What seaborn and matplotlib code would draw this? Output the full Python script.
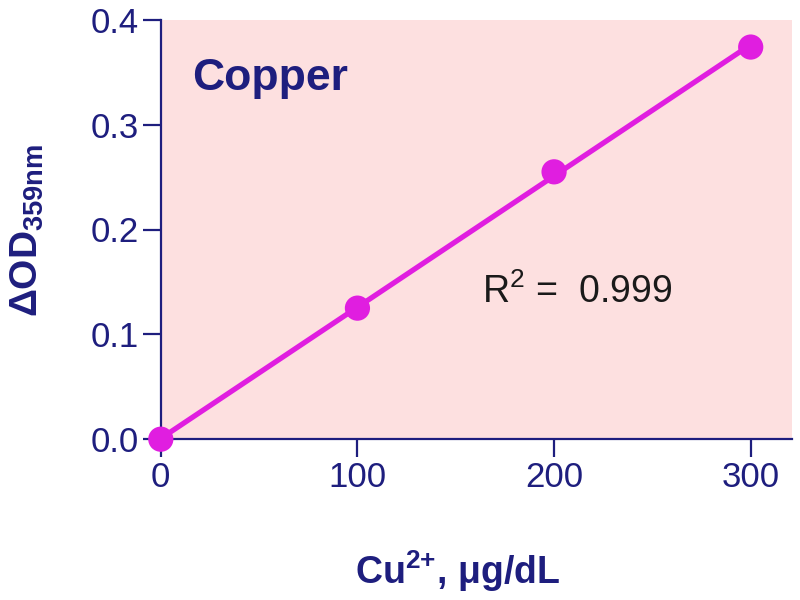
import numpy as np
import pandas as pd
import matplotlib
matplotlib.use("Agg")
import matplotlib.pyplot as plt
import seaborn as sns

# Data
concentration = [0, 100, 200, 300]          # Cu2+, ug/dL
delta_od = [0.0, 0.125, 0.255, 0.374]       # dOD 359nm
x_ticks = [0, 100, 200, 300]
y_ticks = [0.0, 0.1, 0.2, 0.3, 0.4]
r2_text = "R$^2$ =  0.999"
title_text = "Copper"

df = pd.DataFrame({"conc": concentration, "od": delta_od})

sns.set_theme(style="ticks")
plt.rcParams["font.family"] = ["Liberation Sans", "DejaVu Sans"]
plt.rcParams["mathtext.fontset"] = "custom"
plt.rcParams["mathtext.rm"] = "Liberation Sans"
plt.rcParams["mathtext.it"] = "Liberation Sans:italic"
plt.rcParams["mathtext.bf"] = "Liberation Sans:bold"

navy = "#1e1e7e"
magenta = "#e01ee0"
pink = "#fde0e0"

fig = plt.figure(figsize=(8, 6), dpi=100)
ax = fig.add_axes([0.201, 0.268, 0.789, 0.699])
ax.set_facecolor(pink)

sns.regplot(data=df, x="conc", y="od", ax=ax, ci=None, truncate=True,
            scatter_kws=dict(s=330, color=magenta, edgecolor="none", alpha=1,
                             zorder=3, clip_on=False),
            line_kws=dict(color=magenta, lw=3.8, zorder=2))

ax.set_xlim(0, 321)
ax.set_ylim(0, 0.4)
ax.set_xticks(x_ticks)
ax.set_yticks(y_ticks)
ax.set_yticklabels([f"{v:.1f}" for v in y_ticks])
for s in ["top", "right"]:
    ax.spines[s].set_visible(False)
for s in ["left", "bottom"]:
    ax.spines[s].set_color(navy)
    ax.spines[s].set_linewidth(1.6)
ax.tick_params(axis="both", colors=navy, labelsize=25, length=13, width=1.6,
               direction="out", pad=3)

ax.set_xlabel("")
ax.set_ylabel("")
fig.text(0.572, 0.048, r"Cu$^{\mathbf{2{+}}}$, $\mathbf{\mu}$g/dL", ha="center", va="center",
         fontsize=27, fontweight="bold", color=navy)
fig.text(0.034, 0.615, r"$\mathbf{\Delta}$OD$_{\mathbf{359nm}}$", ha="center", va="center",
         rotation=90, fontsize=28, fontweight="bold", color=navy)

ax.text(0.05, 0.86, title_text, transform=ax.transAxes, fontsize=32,
        fontweight="bold", color=navy, ha="left", va="center")
ax.text(0.66, 0.35, r2_text, transform=ax.transAxes, fontsize=27,
        color="#1a1a1a", ha="center", va="center")

fig.savefig("out.png", dpi=100)
